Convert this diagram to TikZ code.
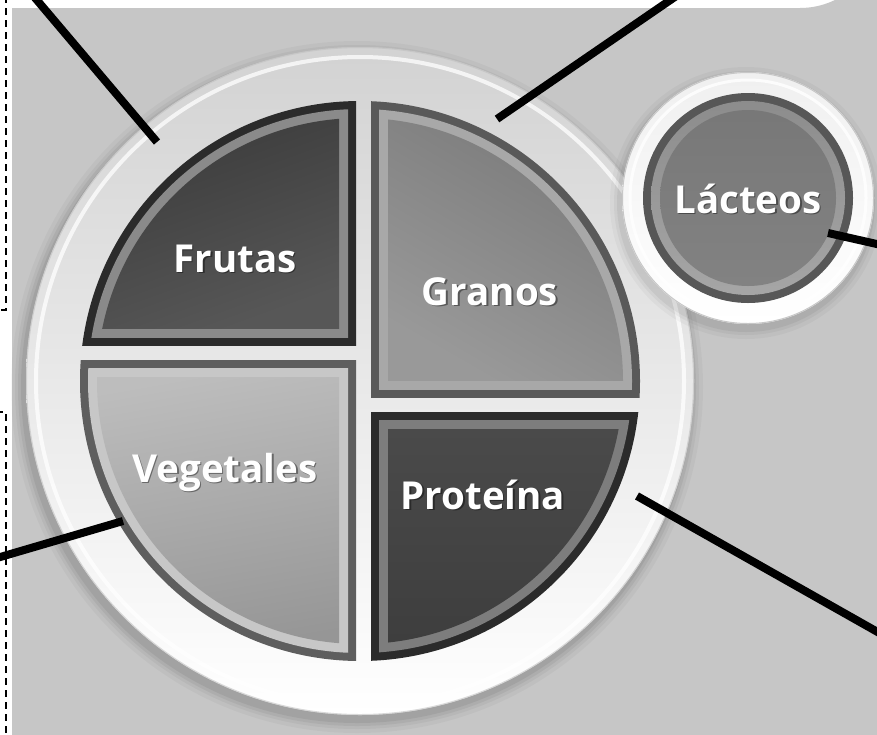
\documentclass[tikz,border=0pt]{standalone}
\usepackage{fontspec}
\setmainfont{Open Sans}
\usetikzlibrary{calc}
\definecolor{bggray}{HTML}{C6C6C6}
\newcommand\foodpart[9]{%
% #1 cx, #2 cy, #3 sx, #4 sy, #5 outer, #6 mid, #7 fill a, #8 fill b, #9 angle
\begin{scope}
\clip (#1,#2) rectangle ({#1+#3*400},{#2+#4*400});
\fill[#5] (P) circle (280);
\end{scope}
\begin{scope}
\clip ({#1+#3*8},{#2+#4*8}) rectangle ({#1+#3*400},{#2+#4*400});
\fill[#6] (P) circle (272);
\end{scope}
\begin{scope}
\clip (P) circle (263);
\shade[top color=#7, bottom color=#8, shading angle=#9] ({#1+#3*17},{#2+#4*17}) rectangle ({#1+#3*290},{#2+#4*290});
\end{scope}}
\begin{document}
\begin{tikzpicture}[x=1pt,y=-1pt,
  conn/.style={line width=8pt, black},
  dashline/.style={line width=2pt, black, dash pattern=on 7pt off 5pt},
  lbl/.style={font=\bfseries\fontsize{38.5}{40}\selectfont, text=white, inner sep=0pt, anchor=base},
  lblsh/.style={font=\bfseries\fontsize{38.5}{40}\selectfont, text=black, opacity=0.4, inner sep=0pt, anchor=base}]
\useasboundingbox (0,0) rectangle (877,734);
\clip (0,0) rectangle (877,734);
\fill[white] (0,0) rectangle (877,734);
% background
\fill[bggray] (12,8) -- (800,8) arc[start angle=90, end angle=0, radius=80] -- (880,740) -- (12,740) -- cycle;
\coordinate (P) at (360,381);
\coordinate (L) at (748,198);
% plate shadow
\foreach \r/\o in {346/0.03, 342/0.04, 339/0.05, 336/0.06}{
  \fill[black, opacity=\o] ($(P)+(-3,6)$) circle (\r);
}
% plate
\shade[top color=gray!35!white, bottom color=white] (P) circle (334);
\draw[white, line width=4pt, opacity=0.75] (P) circle (324);
\draw[black!25, line width=1pt, opacity=0.6] (P) circle (333.5);
% quadrants
\foodpart{356}{345}{-1}{-1}{black!83}{black!46}{black!80}{black!66}{20}
\foodpart{371}{397}{1}{-1}{black!65}{black!34}{black!53}{black!40}{-30}
\foodpart{356}{360}{-1}{1}{black!63}{black!22}{black!26}{black!41}{10}
\foodpart{371}{412}{1}{1}{black!83}{black!51}{black!71}{black!77}{0}
% dairy
\foreach \r/\o in {136/0.03, 132/0.04, 129/0.05}{
  \fill[black, opacity=\o] ($(L)+(-2,5)$) circle (\r);
}
\shade[top color=black!6, bottom color=white] (L) circle (126);
\draw[white, line width=3pt, opacity=0.8] (L) circle (118);
\draw[black!22, line width=1pt] (L) circle (125.5);
\fill[black!66] (L) circle (105);
\shade[top color=black!45, bottom color=black!35] (L) circle (97);
\shade[top color=black!53, bottom color=black!49] (L) circle (88);
% labels
\node[lblsh] at (236.5,273.5) {Frutas};
\node[lbl] (frutas) at (235,272) {Frutas};
\node[lblsh] at (491.5,306.5) {Granos};
\node[lbl] (granos) at (490,305) {Granos};
\node[lblsh] at (749.5,214.5) {Lácteos};
\node[lbl] (lacteos) at (748,213) {Lácteos};
\node[lblsh] at (226.5,483.5) {Vegetales};
\node[lbl] (vegetales) at (225,482) {Vegetales};
\node[lblsh] at (484.5,510.5) {Proteína};
\node[lbl] (proteina) at (483,509) {Proteína};
% connectors
\coordinate (frA) at (157,142); \coordinate (frB) at (25,-14);
\coordinate (grA) at (497,119); \coordinate (grB) at (685,-10);
\coordinate (laA) at (828,233); \coordinate (laB) at (890,247);
\coordinate (veA) at (123,521); \coordinate (veB) at (-10,560);
\coordinate (prA) at (637,496); \coordinate (prB) at (890,639);
\draw[conn] (frA) -- (frB);
\draw[conn] (grA) -- (grB);
\draw[conn] (laA) -- (laB);
\draw[conn] (veA) -- (veB);
\draw[conn] (prA) -- (prB);
% dashed frames
\coordinate (d1a) at (6,-4); \coordinate (d1b) at (6,310); \coordinate (d1c) at (-4,310);
\coordinate (d2a) at (-4,412); \coordinate (d2b) at (6,412); \coordinate (d2c) at (6,740);
\draw[dashline] (d1a) -- (d1b) -- (d1c);
\draw[dashline] (d2a) -- (d2b) -- (d2c);
\end{tikzpicture}
\end{document}
